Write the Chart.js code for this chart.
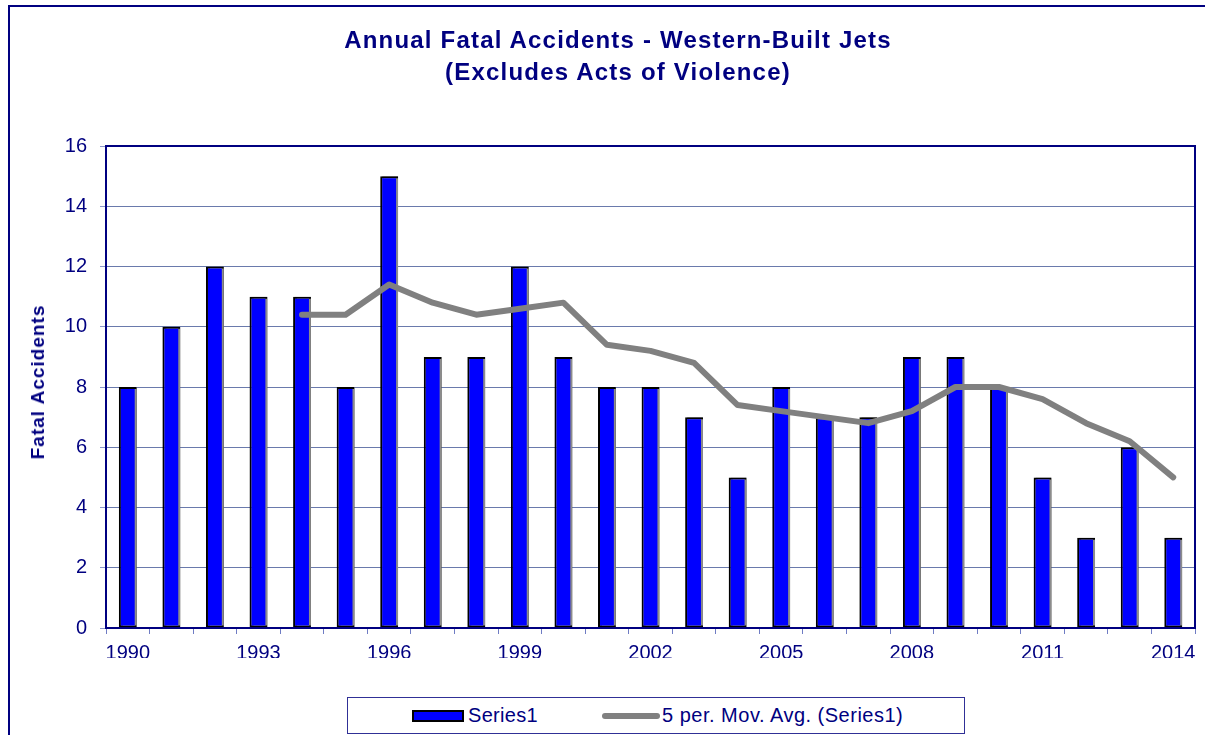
<!DOCTYPE html>
<html>
<head>
<meta charset="utf-8">
<script src="https://cdn.jsdelivr.net/npm/chart.js@4/dist/chart.umd.min.js"></script>
<style>
  html, body { margin: 0; padding: 0; background: #ffffff; overflow: hidden; }
  #wrap { position: relative; width: 1205px; height: 735px; overflow: hidden; }
  #frame { position: absolute; left: 8px; top: 5px; width: 1400px; height: 900px; border: 2px solid #000080; box-sizing: border-box; }
  canvas { position: absolute; left: 0; top: 0; }
  #title { position: absolute; left: 318px; top: 24px; width: 600px; text-align: center; color: #000080;
           font-family: "Liberation Sans", Arial, sans-serif; font-weight: bold; font-size: 24px; line-height: 32px; letter-spacing: 1.2px; }
  #ytitle { position: absolute; left: 38px; top: 382px; transform: translate(-50%, -50%) rotate(-90deg); white-space: nowrap; color: #000080;
            font-family: "Liberation Sans", Arial, sans-serif; font-weight: bold; font-size: 19px; letter-spacing: 1px; }
  #legend { position: absolute; left: 347px; top: 697px; width: 618px; height: 37px; border: 1px solid #303096; box-sizing: border-box; background: #fff;
            font-family: "Liberation Sans", Arial, sans-serif; font-size: 20px; color: #000080; }
  .sw1 { position: absolute; left: 64px; top: 12px; width: 52px; height: 12px; background: #0000ff; border: 2px solid #000; box-sizing: border-box; }
  .t1 { position: absolute; left: 120px; top: 5px; line-height: 24px; letter-spacing: 0.3px; }
  .sw2 { position: absolute; left: 254px; top: 15px; width: 58px; height: 6px; background: #808080; border-radius: 3px; }
  .t2 { position: absolute; left: 314px; top: 5px; line-height: 24px; letter-spacing: 0.5px; }
</style>
</head>
<body>
<div id="wrap">
  <div id="frame"></div>
  <canvas id="c" width="1205" height="735"></canvas>
  <div id="title">Annual Fatal Accidents - Western-Built Jets<br>(Excludes Acts of Violence)</div>
  <div id="ytitle">Fatal Accidents</div>
  <div id="legend">
    <div class="sw1"></div><div class="t1">Series1</div>
    <div class="sw2"></div><div class="t2">5 per. Mov. Avg. (Series1)</div>
  </div>
</div>
<script>
const years = ['1990','1991','1992','1993','1994','1995','1996','1997','1998','1999','2000','2001','2002','2003','2004','2005','2006','2007','2008','2009','2010','2011','2012','2013','2014'];
const accidents = [8,10,12,11,11,8,15,9,9,12,9,8,8,7,5,8,7,7,9,9,8,5,3,6,3];
const movAvg = [null,null,null,null,10.4,10.4,11.4,10.8,10.4,10.6,10.8,9.4,9.2,8.8,7.4,7.2,7.0,6.8,7.2,8.0,8.0,7.6,6.8,6.2,5.0];
const shownYearLabels = ['1990','1993','1996','1999','2002','2005','2008','2011','2014'];
const yTicks = [0,2,4,6,8,10,12,14,16];

const NAVY = '#000080';
const FONT = '"Liberation Sans", Arial, sans-serif';

const framePlugin = {
  id: 'plotFrame',
  beforeDatasetDraw(chart, args) {
    if (args.meta.type === 'bar') {
      const ctx = chart.ctx;
      ctx.save();
      ctx.shadowColor = '#8c8c8c';
      ctx.shadowOffsetX = 2;
      ctx.shadowOffsetY = 0;
      ctx.shadowBlur = 0;
    }
  },
  afterDatasetDraw(chart, args) {
    if (args.meta.type === 'bar') chart.ctx.restore();
  },
  afterDraw(chart) {
    const a = chart.chartArea, ctx = chart.ctx;
    ctx.save();
    ctx.strokeStyle = NAVY;
    ctx.lineWidth = 2;
    ctx.strokeRect(a.left, a.top, a.right - a.left, a.bottom - a.top);
    ctx.restore();
  }
};

new Chart(document.getElementById('c'), {
  data: {
    labels: years,
    datasets: [
      {
        type: 'line',
        label: '5 per. Mov. Avg. (Series1)',
        data: movAvg,
        borderColor: '#808080',
        borderWidth: 6,
        pointRadius: 0,
        tension: 0,
        borderCapStyle: 'round',
        borderJoinStyle: 'round',
        fill: false,
        order: 0
      },
      {
        type: 'bar',
        label: 'Series1',
        data: accidents,
        backgroundColor: '#0000ff',
        borderColor: '#000000',
        borderWidth: 2,
        borderSkipped: false,
        categoryPercentage: 1.0,
        barPercentage: 0.41,
        order: 1
      }
    ]
  },
  plugins: [framePlugin],
  options: {
    responsive: false,
    animation: false,
    devicePixelRatio: 1,
    layout: { padding: { left: 0, top: 146, right: 10, bottom: 77 } },
    plugins: {
      legend: { display: false },
      title: { display: false },
      tooltip: { enabled: false }
    },
    scales: {
      x: {
        type: 'category',
        offset: true,
        grid: { offset: true, drawOnChartArea: false, drawTicks: true, tickLength: 6, tickColor: '#6f7cc4', lineWidth: 1 },
        border: { display: true, color: NAVY, width: 2 },
        ticks: {
          autoSkip: false, maxRotation: 0, minRotation: 0, padding: 7,
          color: NAVY, font: { family: FONT, size: 20 },
          callback: function(v, i) { const l = years[i]; return shownYearLabels.includes(l) ? l : ''; }
        },
        afterFit(scale) { scale.height = 30; }
      },
      y: {
        min: 0, max: 16,
        afterBuildTicks(scale) { scale.ticks = yTicks.map(v => ({ value: v })); },
        grid: { color: '#6a7aac', lineWidth: 1, drawTicks: true, tickLength: 6, tickColor: '#8c98cc' },
        border: { display: true, color: NAVY, width: 2 },
        ticks: { padding: 13, color: NAVY, font: { family: FONT, size: 20 } },
        afterFit(scale) { scale.width = 106; }
      }
    }
  }
});
</script>
</body>
</html>
